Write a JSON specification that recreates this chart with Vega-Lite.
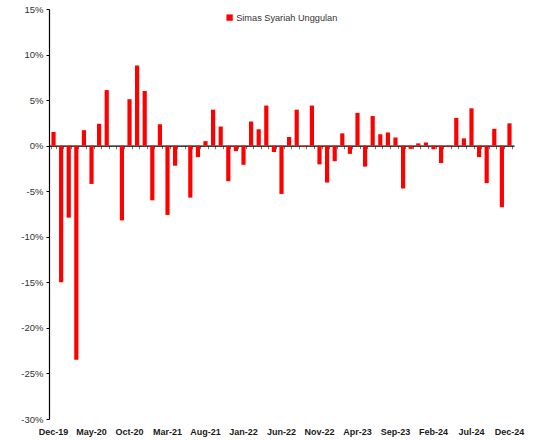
{
  "$schema": "https://vega.github.io/schema/vega-lite/v6.json",
  "autosize": "none",
  "width": 465,
  "height": 410,
  "padding": {"left": 49, "top": 9, "right": 20, "bottom": 21},
  "background": "white",
  "config": {"view": {"stroke": null}, "font": "Liberation Sans"},
  "data": {"values": [
    {"m": "Dec-19", "v": 1.5}, {"m": "Jan-20", "v": -15.0}, {"m": "Feb-20", "v": -7.9}, {"m": "Mar-20", "v": -23.5},
    {"m": "Apr-20", "v": 1.7}, {"m": "May-20", "v": -4.2}, {"m": "Jun-20", "v": 2.4}, {"m": "Jul-20", "v": 6.1},
    {"m": "Aug-20", "v": 0.0}, {"m": "Sep-20", "v": -8.2}, {"m": "Oct-20", "v": 5.1}, {"m": "Nov-20", "v": 8.8},
    {"m": "Dec-20", "v": 6.0}, {"m": "Jan-21", "v": -6.0}, {"m": "Feb-21", "v": 2.35}, {"m": "Mar-21", "v": -7.6},
    {"m": "Apr-21", "v": -2.2}, {"m": "May-21", "v": 0.0}, {"m": "Jun-21", "v": -5.7}, {"m": "Jul-21", "v": -1.25},
    {"m": "Aug-21", "v": 0.5}, {"m": "Sep-21", "v": 3.95}, {"m": "Oct-21", "v": 2.1}, {"m": "Nov-21", "v": -3.9},
    {"m": "Dec-21", "v": -0.6}, {"m": "Jan-22", "v": -2.1}, {"m": "Feb-22", "v": 2.65}, {"m": "Mar-22", "v": 1.8},
    {"m": "Apr-22", "v": 4.4}, {"m": "May-22", "v": -0.7}, {"m": "Jun-22", "v": -5.3}, {"m": "Jul-22", "v": 0.95},
    {"m": "Aug-22", "v": 3.95}, {"m": "Sep-22", "v": -0.15}, {"m": "Oct-22", "v": 4.4}, {"m": "Nov-22", "v": -2.05},
    {"m": "Dec-22", "v": -4.05}, {"m": "Jan-23", "v": -1.7}, {"m": "Feb-23", "v": 1.35}, {"m": "Mar-23", "v": -0.9},
    {"m": "Apr-23", "v": 3.6}, {"m": "May-23", "v": -2.3}, {"m": "Jun-23", "v": 3.25}, {"m": "Jul-23", "v": 1.25},
    {"m": "Aug-23", "v": 1.45}, {"m": "Sep-23", "v": 0.9}, {"m": "Oct-23", "v": -4.7}, {"m": "Nov-23", "v": -0.35},
    {"m": "Dec-23", "v": 0.25}, {"m": "Jan-24", "v": 0.35}, {"m": "Feb-24", "v": -0.4}, {"m": "Mar-24", "v": -1.9},
    {"m": "Apr-24", "v": -0.15}, {"m": "May-24", "v": 3.05}, {"m": "Jun-24", "v": 0.8}, {"m": "Jul-24", "v": 4.1},
    {"m": "Aug-24", "v": -1.25}, {"m": "Sep-24", "v": -4.1}, {"m": "Oct-24", "v": 1.85}, {"m": "Nov-24", "v": -6.75},
    {"m": "Dec-24", "v": 2.45}
  ]},
  "transform": [{"calculate": "'Simas Syariah Unggulan'", "as": "series"}],
  "resolve": {"axis": {"x": "independent"}},
  "layer": [
    {
      "mark": {"type": "bar", "opacity": 0},
      "encoding": {
        "x": {"field": "m", "type": "nominal", "sort": null,
          "scale": {"paddingInner": 0.45, "paddingOuter": 0.32},
          "axis": {"orient": "bottom", "offset": -273.3, "title": null, "labels": false,
            "domain": true, "domainColor": "#000000", "domainWidth": 1.3,
            "ticks": true, "tickBand": "extent", "tickSize": 3, "tickColor": "#777777", "grid": false}},
        "y": {"field": "v", "type": "quantitative"}
      }
    },
    {
      "mark": {"type": "bar"},
      "encoding": {
        "x": {"field": "m", "type": "nominal", "sort": null,
          "axis": {"orient": "bottom", "title": null, "domain": false, "ticks": false, "grid": false,
            "labelAngle": 0, "labelPadding": 8, "labelFontSize": 9, "labelFontWeight": "bold",
            "labelColor": "#1a1a1a",
            "values": ["Dec-19","May-20","Oct-20","Mar-21","Aug-21","Jan-22","Jun-22","Nov-22","Apr-23","Sep-23","Feb-24","Jul-24","Dec-24"]}},
        "y": {"field": "v", "type": "quantitative",
          "scale": {"domain": [-30, 15], "nice": false, "zero": false},
          "axis": {"title": null, "grid": false, "values": [-30,-25,-20,-15,-10,-5,0,5,10,15],
            "labelExpr": "datum.value + '%'", "domainColor": "#000000", "domainWidth": 1.2,
            "tickColor": "#000000", "tickSize": 3, "labelFontSize": 9.5, "labelColor": "#333333", "labelPadding": 3}},
        "color": {"field": "series", "type": "nominal",
          "scale": {"range": ["#ff0000"]},
          "legend": {"title": null, "orient": "none", "legendX": 176, "legendY": 4,
            "symbolType": "square", "symbolSize": 40, "symbolStrokeWidth": 0, "labelFontSize": 9.2,
            "labelColor": "#333333", "labelOffset": 2, "padding": 0}}
      }
    }
  ]
}
